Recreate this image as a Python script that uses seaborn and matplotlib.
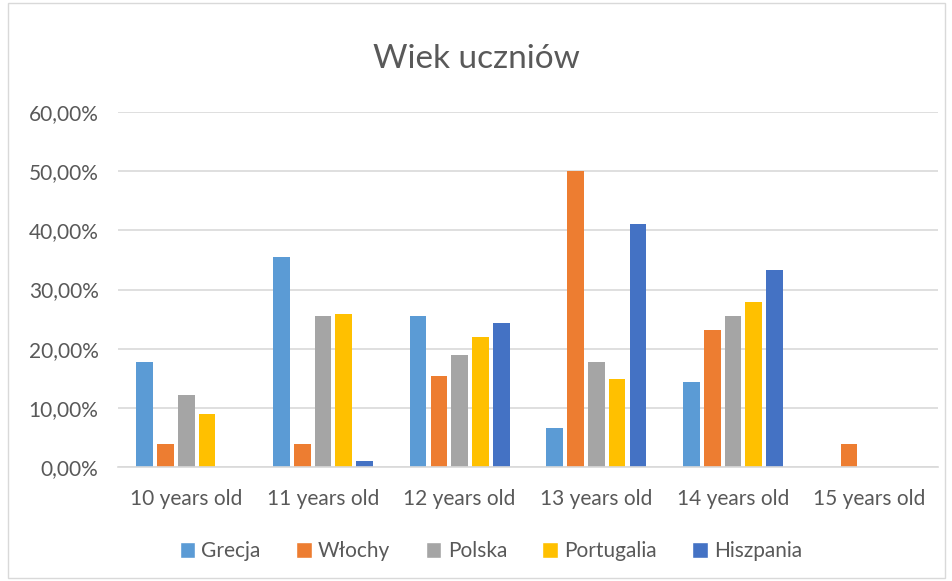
import matplotlib
matplotlib.use("Agg")
from matplotlib import pyplot as plt
from matplotlib.patches import Rectangle, Patch
from matplotlib.ticker import FuncFormatter
import seaborn as sns
import pandas as pd

# Dane (udzial procentowy)
kategorie = ["10 years old", "11 years old", "12 years old",
             "13 years old", "14 years old", "15 years old"]
kraje = ["Grecja", "Włochy", "Polska", "Portugalia", "Hiszpania"]
grecja = [17.78, 35.56, 25.56, 6.67, 14.44, 0.0]
wlochy = [3.85, 3.85, 15.38, 50.0, 23.08, 3.85]
polska = [12.12, 25.56, 18.89, 17.78, 25.56, 0.0]
portugalia = [9.0, 25.93, 21.95, 14.93, 27.94, 0.0]
hiszpania = [0.0, 1.0, 24.39, 41.11, 33.33, 0.0]
kolory = ["#5B9BD5", "#ED7D31", "#A5A5A5", "#FFC000", "#4472C4"]

serie = [grecja, wlochy, polska, portugalia, hiszpania]
rows = []
for kraj, wartosci in zip(kraje, serie):
    for kat, v in zip(kategorie, wartosci):
        rows.append({"wiek": kat, "kraj": kraj, "udzial": v})
df = pd.DataFrame(rows)

sns.set_style("white")
plt.rcParams["font.family"] = ["Lato", "DejaVu Sans"]
szary = "#595959"

fig = plt.figure(figsize=(9.53, 5.81), dpi=100)
ax = fig.add_axes([118 / 953, 1 - 467 / 581, 820 / 953, 355 / 581])

sns.barplot(data=df, x="wiek", y="udzial", hue="kraj", hue_order=kraje,
            palette=kolory, width=0.76, gap=0.2, saturation=1,
            linewidth=0, ax=ax, legend=False)

ax.set_ylim(0, 60)
ax.set_yticks(range(0, 61, 10))
ax.yaxis.set_major_formatter(FuncFormatter(lambda v, p: f"{v:.2f}%".replace(".", ",")))
ax.grid(axis="y", color="#d9d9d9", linewidth=1.2)
ax.set_axisbelow(True)
for s in ["left", "right", "top"]:
    ax.spines[s].set_visible(False)
ax.spines["bottom"].set_color("#d9d9d9")
ax.spines["bottom"].set_linewidth(1.2)
ax.tick_params(axis="both", length=0, labelsize=15, colors=szary)
ax.tick_params(axis="x", pad=16)
ax.tick_params(axis="y", pad=14)
ax.set_xlabel("")
ax.set_ylabel("")

fig.suptitle("Wiek uczniów", x=0.5, y=1 - 59 / 581, va="center",
             fontsize=24, color=szary)

uchwyty = [Patch(facecolor=c, label=k) for k, c in zip(kraje, kolory)]
leg = fig.legend(handles=uchwyty, loc="center", bbox_to_anchor=(491 / 953, 1 - 551 / 581),
                 ncol=5, frameon=False, fontsize=15, handlelength=0.75,
                 handleheight=0.8, handletextpad=0.3, columnspacing=1.7)
for t in leg.get_texts():
    t.set_color(szary)

fig.patches.append(Rectangle((8 / 953, 3 / 581), 937 / 953, 575 / 581,
                             transform=fig.transFigure, fill=False,
                             edgecolor="#d9d9d9", linewidth=1))

fig.savefig("out.png", dpi=100)
